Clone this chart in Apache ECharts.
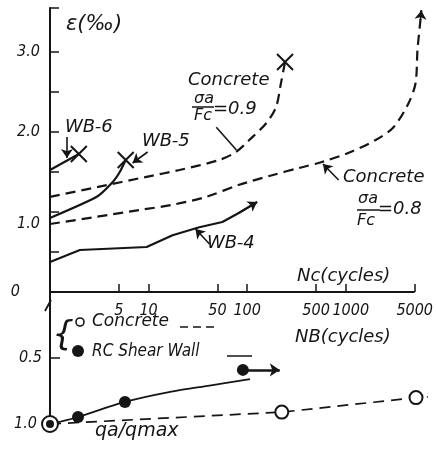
<!DOCTYPE html>
<html><head><meta charset="utf-8">
<script src="https://cdn.jsdelivr.net/npm/echarts@6/dist/echarts.min.js"></script>
<style>html,body{margin:0;padding:0;background:#fff}#c{width:436px;height:449px}</style>
</head><body><div id="c"></div>
<script>
// ---- data (N = cycles, log axis) ----
const xTicks = [5, 10, 50, 100, 500, 1000, 5000];
const xAxisEnd = 5000;
const yTopTicks = [0.5, 1, 1.5, 2, 2.5, 3, 3.55];
const yTopLabels = [0, 1, 2, 3];
const yBotTicks = [0.5];
const yBotLabels = [0.5, 1.0];

// upper part: strain (‰) vs Nc
const conc09 = [[1,1.19],[2.98,1.31],[9.55,1.44],[20.6,1.525],[52,1.65],[77,1.75],[105,1.9],[156,2.11],[196,2.31],[220,2.61],[242,2.875]];
const conc08 = [[1,0.85],[2.98,0.94],[8.1,1.025],[17.5,1.09],[38.5,1.19],[83,1.34],[179,1.46],[335,1.55],[572,1.625],[1070,1.74],[2010,1.9],[3050,2.06],[4330,2.36],[5100,2.61],[5340,3.03],[5720,3.4],[5840,3.52]];
const wb4 = [[1,0.375],[2.01,0.525],[9.55,0.5625],[17.5,0.71],[32.7,0.81],[56,0.875],[83,0.99],[126,1.125]];
const wb5 = [[1,0.925],[2.98,1.19],[4.33,1.375],[5.1,1.5],[5.86,1.65]];
const wb6 = [[1,1.525],[1.96,1.725]];
const failPts = [conc09[conc09.length-1], wb5[wb5.length-1], wb6[wb6.length-1]];

// annotation leaders (data coords)
const leaderArrows = [
  [[1.485,1.9375],[1.485,1.675]],   // WB-6
  [[9.77,1.75],[6.88,1.6125]],      // WB-5
  [[846,1.4],[587,1.6]],            // Concrete 0.8
  [[41.5,0.6],[29.9,0.7875]]        // WB-4
];
const leaderPlain = [
  [[48.6,2.06],[77.8,1.775]]        // Concrete 0.9
];

// lower part: qa/qmax vs NB
const rcCurve = [[1,1.0],[1.92,0.947],[5.72,0.833],[16.3,0.757],[44,0.705],[105,0.66]];
const rcPoints = [[1,1.0],[1.92,0.947],[5.72,0.833],[89,0.59]];
const rcArrow = [[89,0.59],[210,0.59]];
const concCurve = [[1,1.0],[220,0.91],[5000,0.80],[6580,0.795]];
const concPoints = [[1,1.0],[220,0.91],[5000,0.80]];

// ---- chart ----
const INK = '#151515';
const F = "'DejaVu Sans', sans-serif";
const FC = "'DejaVu Sans Condensed','DejaVu Sans',sans-serif";
const lg = v => Math.log10(v);
const P = p => [lg(p[0]), p[1]];
const XMIN = lg(1), XMAX = lg(7000);
const GW = 366 * XMAX / lg(xAxisEnd);   // 5000 lands at x = 416

function txt(text, x, y, size, align, fam) {
  return { type:'text', x:x, y:y, z:10,
    style:{ text:text, fill:INK, fontSize:size, fontFamily:fam||F, fontStyle:'italic',
            align:align||'left', verticalAlign:'middle', textAlign:align||'left', textVerticalAlign:'middle' } };
}
function seg(x1,y1,x2,y2,w,dash){
  return { type:'line', z:10, shape:{x1,y1,x2,y2}, style:{stroke:INK, lineWidth:w||1.5, lineDash:dash||null} };
}

const line = (data, dashed, ext) => Object.assign({
  type:'line', xAxisIndex:0, yAxisIndex:0, data:data.map(P), symbol:'none', showSymbol:false,
  clip:false, animation:false, lineStyle:{color:INK, width:2.2, type: dashed ? [10,6] : 'solid'}, z:3
}, ext||{});

const labStyle = {color:INK, fontFamily:FC, fontStyle:'italic', fontSize:16};

const option = {
  animation:false,
  backgroundColor:'#fff',
  grid:[{left:50, top:8, width:GW, height:284}, {left:50, top:292, width:GW, height:132}],
  xAxis:[
    { gridIndex:0, type:'value', min:XMIN, max:XMAX, position:'bottom',
      axisLine:{show:false},
      axisTick:{show:true, inside:true, length:8, customValues:xTicks.map(lg), lineStyle:{color:INK, width:1.5}},
      axisLabel:Object.assign({customValues:xTicks.map(lg), margin:11,
        formatter:v=>{ const n = Math.round(Math.pow(10,v)); return n===1000 ? '{k|1000}' : String(n); },
        rich:{ k:Object.assign({padding:[0,0,0,10]}, labStyle) }
      }, labStyle),
      splitLine:{show:false} },
    { gridIndex:1, type:'value', min:XMIN, max:XMAX, show:false }
  ],
  yAxis:[
    { gridIndex:0, type:'value', min:0, max:3.55,
      axisLine:{show:true, onZero:false, lineStyle:{color:INK, width:2}},
      axisTick:{show:true, inside:true, length:9, customValues:yTopTicks, lineStyle:{color:INK, width:1.5}},
      axisLabel:Object.assign({customValues:yTopLabels, margin:10,
        formatter:v=> v===0 ? '{z|0}' : (v===1 ? '{o|1.0}' : v.toFixed(1)),
        rich:{ z:Object.assign({padding:[0,20,0,0]}, labStyle), o:Object.assign({padding:[24,0,0,0]}, labStyle) }
      }, labStyle),
      splitLine:{show:false} },
    { gridIndex:1, type:'value', min:0, max:1, inverse:true,
      axisLine:{show:true, onZero:false, lineStyle:{color:INK, width:2}},
      axisTick:{show:true, inside:true, length:10, customValues:yBotTicks, lineStyle:{color:INK, width:1.5}},
      axisLabel:Object.assign({customValues:yBotLabels, margin:8,
        formatter:v=> v===1 ? '{e|1.0}' : v.toFixed(1),
        rich:{ e:Object.assign({padding:[0,5,0,0]}, labStyle) }
      }, labStyle),
      splitLine:{show:false} }
  ],
  series:[
    line(conc09, true, {smooth:0.3,
      markLine:{ silent:true, symbol:'none', label:{show:false}, animation:false,
        lineStyle:{color:INK, width:2, type:'solid'},
        data:[[{coord:[XMIN,0]},{coord:[lg(xAxisEnd),0]}]] } }),
    line(conc08, true, {smooth:0.3}),
    line(wb4, false),
    line(wb5, false, {smooth:0.2}),
    line(wb6, false),
    { type:'scatter', xAxisIndex:0, yAxisIndex:0, data:failPts.map(P),
      symbol:'path://M0,0L10,10M10,0L0,10', symbolSize:16, clip:false,
      itemStyle:{color:'rgba(0,0,0,0)', borderColor:INK, borderWidth:2, opacity:1}, z:5 },
    { type:'lines', coordinateSystem:'cartesian2d', xAxisIndex:0, yAxisIndex:0, clip:false,
      symbol:['none','arrow'], symbolSize:[1,9], lineStyle:{color:INK, width:1.6, opacity:1},
      data:leaderArrows.concat([[wb4[wb4.length-2], wb4[wb4.length-1]], [conc08[conc08.length-2], conc08[conc08.length-1]]])
        .map(a=>({coords:[P(a[0]), P(a[1])]})), z:4 },
    { type:'lines', coordinateSystem:'cartesian2d', xAxisIndex:0, yAxisIndex:0, clip:false,
      symbol:'none', lineStyle:{color:INK, width:1.6, opacity:1},
      data:leaderPlain.map(a=>({coords:[P(a[0]), P(a[1])]})), z:4 },

    { type:'line', xAxisIndex:1, yAxisIndex:1, data:concCurve.map(P), symbol:'none', clip:false,
      lineStyle:{color:INK, width:1.7, type:[11,7]}, z:3 },
    { type:'line', xAxisIndex:1, yAxisIndex:1, data:rcCurve.map(P), symbol:'none', smooth:0.4, clip:false,
      lineStyle:{color:INK, width:1.8}, z:3 },
    { type:'scatter', xAxisIndex:1, yAxisIndex:1, clip:false,
      data:concPoints.map((p,i)=>({value:P(p), symbolSize: i===0 ? 16 : 13})),
      itemStyle:{color:'#fff', borderColor:INK, borderWidth:2, opacity:1}, z:5 },
    { type:'scatter', xAxisIndex:1, yAxisIndex:1, clip:false,
      data:rcPoints.map((p,i)=>({value:P(p), symbolSize: i===0 ? 8 : 12})),
      itemStyle:{color:INK, opacity:1}, z:6 },
    { type:'lines', coordinateSystem:'cartesian2d', xAxisIndex:1, yAxisIndex:1, clip:false,
      symbol:['none','arrow'], symbolSize:[1,10], lineStyle:{color:INK, width:2.5, opacity:1},
      data:[{coords:[P(rcArrow[0]), P(rcArrow[1])]}], z:4 }
  ],
  graphic:[
    txt('ε(‰)', 66, 25, 21),
    txt('WB-6', 65, 127, 18),
    txt('WB-5', 142, 141, 18),
    txt('Concrete', 188, 80, 18),
    txt('σa', 204, 99, 16, 'center'),
    seg(192,107,214,107,1.5),
    txt('Fc', 203, 116, 16, 'center'),
    txt('=0.9', 213, 109, 18),
    txt('Concrete', 343, 177, 18),
    txt('σa', 368, 199, 16, 'center'),
    seg(357,210,380,210,1.5),
    txt('Fc', 366, 221, 16, 'center'),
    txt('=0.8', 378, 209, 18),
    txt('WB-4', 207, 243, 18),
    txt('Nc(cycles)', 297, 276, 18),
    txt('NB(cycles)', 295, 337, 18),
    txt('qa/qmax', 95, 431, 19),
    txt('{', 63, 336, 34, 'center'),
    { type:'circle', z:10, shape:{cx:80, cy:322, r:4}, style:{fill:'#fff', stroke:INK, lineWidth:1.6} },
    { type:'circle', z:10, shape:{cx:78, cy:351, r:6}, style:{fill:INK} },
    txt('Concrete', 92, 322, 17),
    seg(180,327,214,327,1.5,[8,5]),
    txt('RC Shear Wall', 92, 352, 17, 'left', FC),
    seg(227,356,252,356,1.5),
    seg(45,311,51,300,1.8)
  ]
};
const chart = echarts.init(document.getElementById('c'), null, {renderer:'canvas'});
chart.setOption(option);
</script></body></html>
